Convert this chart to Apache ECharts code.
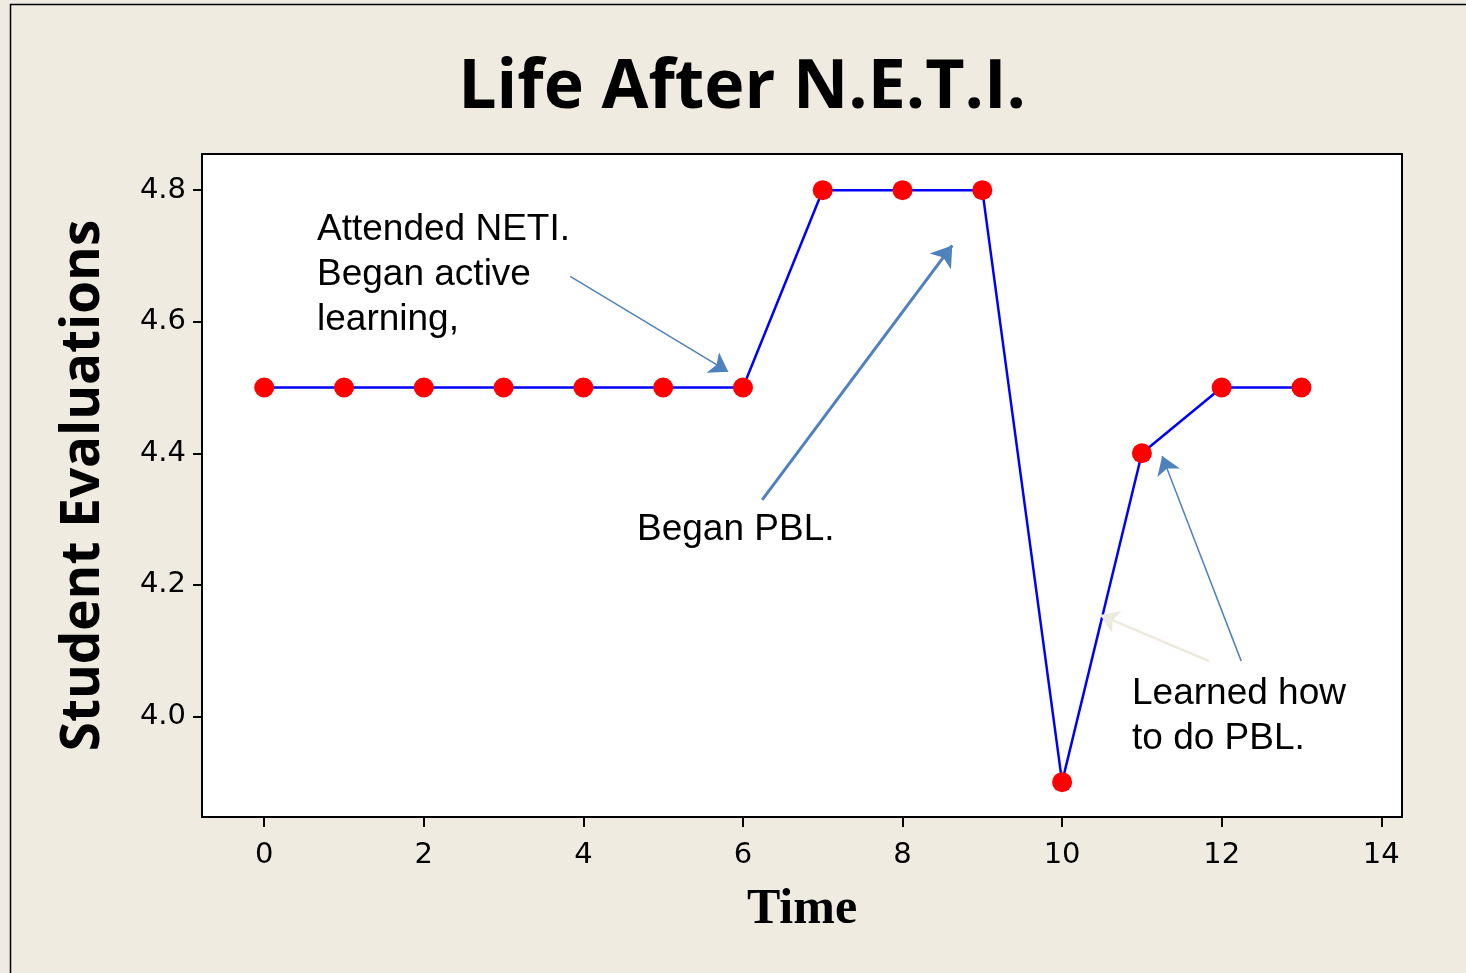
<!DOCTYPE html>
<html>
<head>
<meta charset="utf-8">
<script src="https://cdn.jsdelivr.net/npm/echarts@6/dist/echarts.min.js"></script>
<style>
html,body{margin:0;padding:0;background:#EFEBE1;}
#chart{width:1466px;height:973px;}
</style>
</head>
<body>
<div id="chart"></div>
<script>
// Data
const timeValues = [0, 1, 2, 3, 4, 5, 6, 7, 8, 9, 10, 11, 12, 13];
const evaluations = [4.5, 4.5, 4.5, 4.5, 4.5, 4.5, 4.5, 4.8, 4.8, 4.8, 3.9, 4.4, 4.5, 4.5];
const xTicks = [0, 2, 4, 6, 8, 10, 12, 14];
const yTicks = [4.0, 4.2, 4.4, 4.6, 4.8];
// Annotation arrows in data coordinates: [x1, y1, x2, y2]
const arrowNETI = [3.835, 4.669, 5.815, 4.524];
const arrowPBL = [6.241, 4.329, 8.623, 4.716];
const arrowLearned = [12.245, 4.084, 11.254, 4.396];
const arrowFaint = [11.843, 4.084, 10.478, 4.154];

const pairs = timeValues.map((t, i) => [t, evaluations[i]]);

function arrow(a, color, width, size) {
  return [
    { coord: [a[0], a[1]], symbol: 'none', symbolSize: 0, lineStyle: { color: color, width: width, type: 'solid' } },
    { coord: [a[2], a[3]], symbol: 'arrow', symbolSize: size, itemStyle: { color: color } }
  ];
}

const chart = echarts.init(document.getElementById('chart'), null, { renderer: 'canvas' });
chart.setOption({
  animation: false,
  backgroundColor: '#EFEBE1',
  title: {
    text: 'Life After N.E.T.I.',
    left: 737, top: 50, textAlign: 'center',
    textStyle: { fontFamily: 'Open Sans', fontWeight: 'bold', fontSize: 68, color: '#000' }
  },
  grid: {
    left: 202, top: 154, right: 64, bottom: 156,
    show: true, backgroundColor: '#ffffff', borderColor: '#000', borderWidth: 2
  },
  xAxis: {
    type: 'value', min: -0.78, max: 14.26,
    name: 'Time', nameLocation: 'middle', nameGap: 68,
    nameTextStyle: { fontFamily: 'Liberation Serif', fontWeight: 'bold', fontSize: 50, color: '#000' },
    axisLine: { show: true, onZero: false, lineStyle: { color: '#000', width: 2 } },
    axisTick: { show: true, length: 10, lineStyle: { color: '#000', width: 2 }, customValues: xTicks },
    axisLabel: { show: true, margin: 24, customValues: xTicks, fontFamily: 'DejaVu Sans', fontSize: 29, color: '#000',
      formatter: v => String(v) },
    splitLine: { show: false }
  },
  yAxis: {
    type: 'value', min: 3.847, max: 4.855,
    name: 'Student Evaluations', nameLocation: 'middle', nameRotate: 90, nameGap: 92,
    nameTextStyle: { fontFamily: 'Open Sans', fontWeight: 'bold', fontSize: 53, color: '#000' },
    axisLine: { show: true, onZero: false, lineStyle: { color: '#000', width: 2 } },
    axisTick: { show: true, length: 9, lineStyle: { color: '#000', width: 2 }, customValues: yTicks },
    axisLabel: { show: true, margin: 16, customValues: yTicks, fontFamily: 'DejaVu Sans', fontSize: 29, color: '#000',
      formatter: v => Number(v).toFixed(1) },
    splitLine: { show: false }
  },
  series: [{
    type: 'line',
    data: pairs,
    lineStyle: { color: '#0000FF', width: 2.5 },
    itemStyle: { color: '#FF0000' },
    symbol: 'circle', symbolSize: 20,
    z: 2,
    markLine: {
      silent: true,
      symbol: ['none', 'arrow'],
      label: { show: false },
      emphasis: { disabled: true },
      z: 5,
      data: [
        arrow(arrowNETI, '#4F81BD', 1.5, 18),
        arrow(arrowPBL, '#4F81BD', 3, 20),
        arrow(arrowLearned, '#4F81BD', 1.5, 18),
        arrow(arrowFaint, '#EDE9DF', 2.5, 18)
      ]
    }
  }],
  graphic: [
    { type: 'rect', z: -10, silent: true, shape: { x: 10.5, y: 4.5, width: 1500, height: 1000 },
      style: { fill: 'none', stroke: '#000', lineWidth: 1.5 } },
    { type: 'text', left: 317, top: 207, z: 10,
      style: { text: 'Attended NETI.\nBegan active\nlearning,', font: '37px "Liberation Sans"', lineHeight: 45, fill: '#000' } },
    { type: 'text', left: 637, top: 511, z: 10,
      style: { text: 'Began PBL.', font: '37px "Liberation Sans"', fill: '#000' } },
    { type: 'text', left: 1132, top: 671, z: 10,
      style: { text: 'Learned how\nto do PBL.', font: '37px "Liberation Sans"', lineHeight: 45, fill: '#000' } }
  ]
});
</script>
</body>
</html>
